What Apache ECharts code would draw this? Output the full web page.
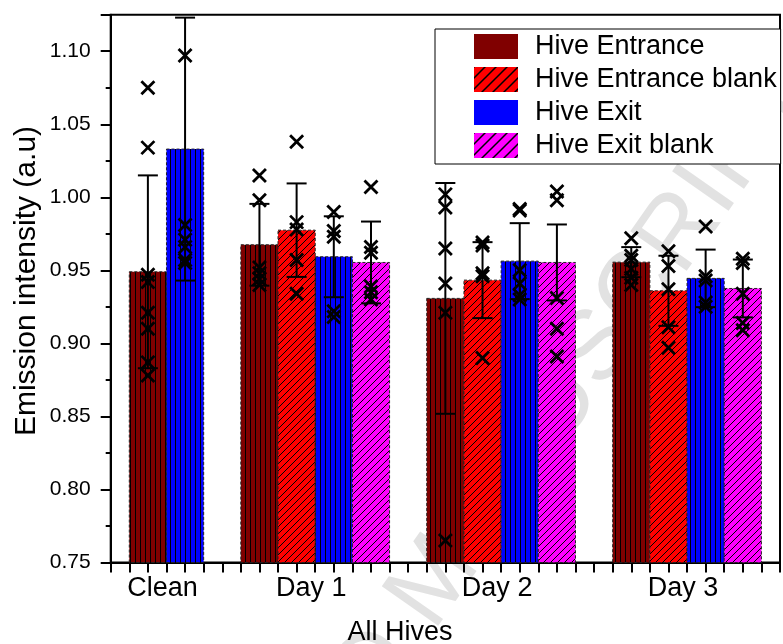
<!DOCTYPE html>
<html>
<head>
<meta charset="utf-8">
<script src="https://cdn.jsdelivr.net/npm/echarts@6/dist/echarts.min.js"></script>
<style>
  html, body { margin: 0; padding: 0; background: #fff; }
  #chart { width: 783px; height: 644px; }
</style>
</head>
<body>
<div id="chart"></div>
<script>
// categories and where each group sits on the x scale (axis units)
const categories = ['Clean', 'Day 1', 'Day 2', 'Day 3'];
const groupCenters = [3, 11, 21, 31];
const seriesNames = ['Hive Entrance', 'Hive Entrance blank', 'Hive Exit', 'Hive Exit blank'];

// bar slots on the x scale, one per category (null = no bar)
const entranceSlot = [2, 8, 18, 28];
const entranceBlankSlot = [null, 10, 20, 30];
const exitSlot = [4, 12, 22, 32];
const exitBlankSlot = [null, 14, 24, 34];

// mean values
const entranceMean = [0.949, 0.9675, 0.9308, 0.9556];
const entranceBlankMean = [null, 0.9775, 0.9433, 0.936];
const exitMean = [1.033, 0.9593, 0.9563, 0.9445];
const exitBlankMean = [null, 0.9554, 0.9554, 0.9376];

// error (+/-)
const entranceErr = [0.066, 0.028, 0.079, 0.0103];
const entranceBlankErr = [null, 0.032, 0.026, 0.024];
const exitErr = [0.090, 0.0277, 0.026, 0.0197];
const exitBlankErr = [null, 0.028, 0.026, 0.0198];

// individual measurements (x marks)
const entrancePts = [
  [1.075, 1.034, 0.947, 0.942, 0.921, 0.910, 0.887, 0.878],
  [1.015, 0.998, 0.952, 0.948, 0.944, 0.940],
  [1.002, 0.993, 0.965, 0.941, 0.921, 0.765],
  [0.972, 0.960, 0.957, 0.951, 0.945, 0.940]
];
const entranceBlankPts = [
  [],
  [1.038, 0.983, 0.978, 0.957, 0.934],
  [0.969, 0.967, 0.948, 0.946, 0.890],
  [0.963, 0.953, 0.937, 0.911, 0.897]
];
const exitPts = [
  [1.097, 0.981, 0.971, 0.966, 0.957, 0.955],
  [0.990, 0.977, 0.973, 0.922, 0.918],
  [0.992, 0.991, 0.950, 0.941, 0.933, 0.930],
  [0.980, 0.946, 0.943, 0.928, 0.925]
];
const exitBlankPts = [
  [],
  [1.007, 0.966, 0.962, 0.939, 0.935, 0.930],
  [1.004, 0.998, 0.931, 0.910, 0.891],
  [0.958, 0.955, 0.934, 0.914, 0.909]
];

const Y_MIN = 0.75, Y_MAX = 1.125;
const FONT = 'Liberation Sans, Arial, sans-serif';

// fill patterns drawn on small canvases
function vLines(color, step) {
  const c = document.createElement('canvas');
  c.width = step; c.height = step;
  const g = c.getContext('2d');
  g.fillStyle = color; g.fillRect(0, 0, step, step);
  g.fillStyle = '#000'; g.fillRect(0, 0, 1, step);
  return { image: c, repeat: 'repeat' };
}
function diagLines(color, step, lw) {
  const c = document.createElement('canvas');
  c.width = step; c.height = step;
  const g = c.getContext('2d');
  g.fillStyle = color; g.fillRect(0, 0, step, step);
  g.strokeStyle = '#000'; g.lineWidth = lw;
  g.beginPath();
  g.moveTo(-1, step + 1); g.lineTo(step + 1, -1);
  g.moveTo(-1, 1); g.lineTo(1, -1);
  g.moveTo(step - 1, step + 1); g.lineTo(step + 1, step - 1);
  g.stroke();
  return { image: c, repeat: 'repeat' };
}

const colors = ['#800000', '#ff0000', '#0000ff', '#ff00ff'];
const barFills = [vLines(colors[0], 5), diagLines(colors[1], 7, 1), vLines(colors[2], 5), diagLines(colors[3], 7, 1)];
const legendFills = [colors[0], diagLines(colors[1], 11, 1.5), colors[2], diagLines(colors[3], 11, 1.5)];

function barSeries(idx, slots, means) {
  return {
    name: seriesNames[idx],
    type: 'custom',
    z: 2,
    itemStyle: { color: legendFills[idx] },
    encode: { x: 0, y: 1 },
    data: slots.map((x, i) => [x, means[i]]).filter(d => d[0] != null),
    renderItem(params, api) {
      const x = api.value(0), y = api.value(1);
      const tl = api.coord([x - 1, y]);
      const br = api.coord([x + 1, Y_MIN]);
      return {
        type: 'rect',
        shape: { x: tl[0], y: tl[1], width: br[0] - tl[0], height: br[1] - tl[1] },
        style: { fill: barFills[idx], stroke: '#222', lineWidth: 1, lineDash: [3, 2] }
      };
    }
  };
}

function errSeries(idx, slots, means, errs) {
  return {
    name: seriesNames[idx],
    type: 'custom',
    z: 3,
    encode: { x: 0, y: [1, 2] },
    data: slots.map((x, i) => [x, means[i] - errs[i], means[i] + errs[i]]).filter(d => d[0] != null),
    renderItem(params, api) {
      const lo = api.coord([api.value(0), api.value(1)]);
      const hi = api.coord([api.value(0), api.value(2)]);
      const st = { stroke: '#000', lineWidth: 2 };
      return {
        type: 'group',
        children: [
          { type: 'line', shape: { x1: lo[0], y1: lo[1], x2: hi[0], y2: hi[1] }, style: st },
          { type: 'line', shape: { x1: lo[0] - 10, y1: lo[1], x2: lo[0] + 10, y2: lo[1] }, style: st },
          { type: 'line', shape: { x1: hi[0] - 10, y1: hi[1], x2: hi[0] + 10, y2: hi[1] }, style: st }
        ]
      };
    }
  };
}

function markSeries(idx, slots, pts) {
  const data = [];
  slots.forEach((x, i) => { if (x != null) pts[i].forEach(v => data.push([x, v])); });
  return {
    name: seriesNames[idx],
    type: 'custom',
    z: 4,
    encode: { x: 0, y: 1 },
    data: data,
    renderItem(params, api) {
      const p = api.coord([api.value(0), api.value(1)]);
      const h = 6.5;
      return {
        type: 'path',
        shape: {
          pathData: `M${p[0] - h},${p[1] - h}L${p[0] + h},${p[1] + h}M${p[0] + h},${p[1] - h}L${p[0] - h},${p[1] + h}`
        },
        style: { fill: null, stroke: '#000', lineWidth: 2.8 }
      };
    }
  };
}

const chart = echarts.init(document.getElementById('chart'));

const option = {
  animation: false,
  textStyle: { fontFamily: FONT },
  grid: {
    left: 110.7, top: 14.7, width: 679.3, bottom: 81.5,
    show: true, borderColor: '#000', borderWidth: 2, backgroundColor: 'transparent'
  },
  xAxis: {
    type: 'value',
    min: 0, max: 36, interval: 1,
    splitLine: { show: false },
    axisLine: { lineStyle: { color: '#000', width: 2 } },
    axisTick: { length: 10, lineStyle: { color: '#000', width: 2 } },
    axisLabel: {
      color: '#000', fontSize: 27, fontFamily: FONT, margin: 13,
      padding: [0, 8, 0, 0],
      formatter: v => { const i = groupCenters.indexOf(v); return i >= 0 ? categories[i] : ''; }
    }
  },
  yAxis: {
    type: 'value',
    min: Y_MIN, max: Y_MAX, interval: 0.05,
    splitLine: { show: false },
    axisLine: { show: true, lineStyle: { color: '#000', width: 2 } },
    axisTick: { show: true, length: 10, lineStyle: { color: '#000', width: 2 } },
    minorTick: { show: true, splitNumber: 2, length: 5, lineStyle: { color: '#000', width: 2 } },
    axisLabel: {
      color: '#000', fontSize: 21, fontFamily: FONT, margin: 20,
      formatter: v => Math.abs(v - Y_MAX) < 1e-6 ? '' : v.toFixed(2)
    }
  },
  legend: {
    orient: 'vertical',
    left: 435, top: 29,
    padding: [4, 4, 5, 39],
    itemGap: 6,
    itemWidth: 44, itemHeight: 25,
    icon: 'rect',
    borderColor: '#000', borderWidth: 1, backgroundColor: '#fff',
    textStyle: { color: '#000', fontSize: 27, fontFamily: FONT, padding: [0, 0, 0, 12] },
    data: seriesNames.map((n, i) => ({ name: n, itemStyle: { color: legendFills[i], borderWidth: 0 } }))
  },
  graphic: [
    {
      // faint watermark behind the plot
      type: 'text', z: 0, silent: true,
      x: 790, y: 75, rotation: 55 * Math.PI / 180,
      style: { text: 'ACCEPTED MANUSCRIPT', fill: '#e2e2e2', font: '100px ' + FONT, textAlign: 'right', textVerticalAlign: 'middle' }
    },
    {
      type: 'text', x: 27, y: 281, rotation: Math.PI / 2,
      style: { text: 'Emission intensity (a.u)', fill: '#000', font: '30px ' + FONT, textAlign: 'center', textVerticalAlign: 'middle' }
    },
    {
      type: 'text', x: 400, y: 633,
      style: { text: 'All Hives', fill: '#000', font: '27px ' + FONT, textAlign: 'center', textVerticalAlign: 'middle' }
    }
  ],
  series: [
    barSeries(0, entranceSlot, entranceMean),
    barSeries(1, entranceBlankSlot, entranceBlankMean),
    barSeries(2, exitSlot, exitMean),
    barSeries(3, exitBlankSlot, exitBlankMean),
    errSeries(0, entranceSlot, entranceMean, entranceErr),
    errSeries(1, entranceBlankSlot, entranceBlankMean, entranceBlankErr),
    errSeries(2, exitSlot, exitMean, exitErr),
    errSeries(3, exitBlankSlot, exitBlankMean, exitBlankErr),
    markSeries(0, entranceSlot, entrancePts),
    markSeries(1, entranceBlankSlot, entranceBlankPts),
    markSeries(2, exitSlot, exitPts),
    markSeries(3, exitBlankSlot, exitBlankPts)
  ]
};

chart.setOption(option);
</script>
</body>
</html>
